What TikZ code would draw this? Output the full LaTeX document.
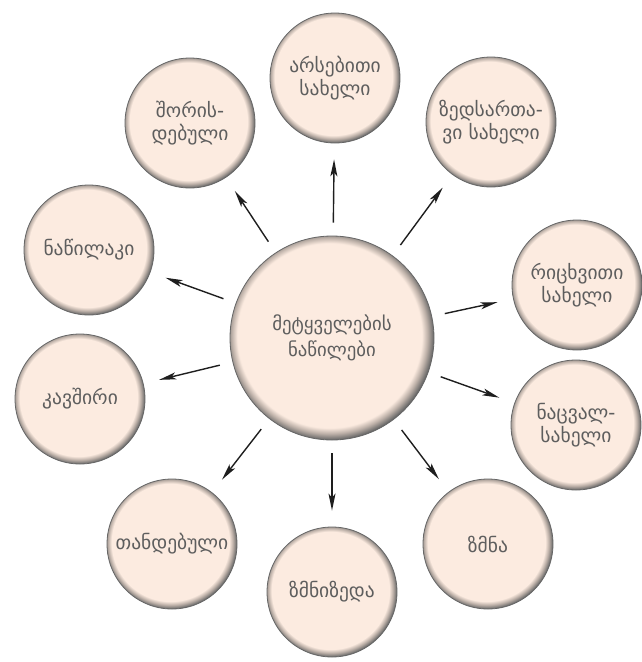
\documentclass[tikz,border=0pt]{standalone}
\usepackage{fontspec}
\newfontfamily\geo{DejaVu Sans}
\usetikzlibrary{arrows.meta}
\definecolor{pch}{HTML}{FCEBE0}
\definecolor{txt}{HTML}{5E5E5E}
\definecolor{arrc}{HTML}{1E1E1E}
\pgfdeclareradialshading{btn}{\pgfpoint{-1.1bp}{1.1bp}}{%
  color(0bp)=(pch); color(22.6bp)=(pch); color(24bp)=(pch!75!black);
  color(25.5bp)=(black!60); color(27bp)=(black!85); color(50bp)=(black!85)}
\tikzset{
  ball/.style={circle, shading=btn, draw=black!60, line width=0.8pt,
    minimum size=130pt, inner sep=0pt, align=center, text=txt,
    font=\geo\fontsize{19.5}{22.5}\selectfont},
  bigball/.style={ball, minimum size=204pt, font=\geo\fontsize{18.8}{26}\selectfont},
  arr/.style={draw=arrc, line width=1.4pt, -{Stealth[length=17pt,width=7pt,inset=4pt]},
    shorten <=13pt, shorten >=16pt}
}
\begin{document}
\begin{tikzpicture}[x=1pt,y=-1pt]
\useasboundingbox (0,0) rectangle (642,662);
\node[bigball] (c) at (332,338) {მეტყველების\\ნაწილები};
\node[ball] (n1) at (335,78) {არსებითი\\სახელი};
\node[ball] (n2) at (491,122) {ზედსართა-\\ვი სახელი};
\node[ball] (n3) at (577,285) {რიცხვითი\\სახელი};
\node[ball] (n4) at (576,425) {ნაცვალ-\\სახელი};
\node[ball] (n5) at (488,544) {ზმნა};
\node[ball] (n6) at (332,592) {ზმნიზედა};
\node[ball] (n7) at (172,544) {თანდებული};
\node[ball] (n8) at (80,399) {კავშირი};
\node[ball] (n9) at (89,250) {ნაწილაკი};
\node[ball] (n10) at (190,123) {შორის-\\დებული};
\foreach \n in {n1,n2,n3,n4,n5,n6,n7,n8,n9,n10}
  \draw[arr] (c) -- (\n);
\end{tikzpicture}
\end{document}
